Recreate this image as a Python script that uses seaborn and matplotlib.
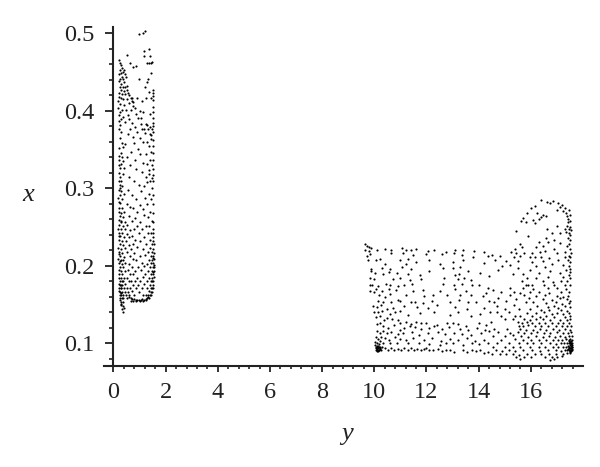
import matplotlib
matplotlib.use('Agg')
import matplotlib.pyplot as plt
import pandas as pd
import seaborn as sns

# points as (y, x)
left_top = [
    (0.98,.499),(1.14,.500),(1.21,.503),(1.17,.477),(1.36,.480),(0.50,.472),(1.17,.470),(1.40,.471),
    (0.23,.465),(0.25,.462),(0.63,.462),(1.27,.462),(1.35,.462),(1.42,.462),(1.49,.463),(0.27,.459),
    (0.32,.455),(0.24,.453),(0.40,.453),(0.73,.456),(0.85,.457),(0.29,.449),(0.37,.450),(0.22,.447),
    (0.44,.447),(0.31,.444),(0.26,.441),(0.36,.441),(0.48,.443),(0.22,.438),(0.41,.437),(0.30,.435),
    (1.45,.448),(1.34,.441),(0.97,.441),(1.27,.437),(0.24,.431),(0.35,.431),(0.44,.430),(0.50,.432),
    (0.28,.427),(0.39,.426),(0.52,.427),(0.57,.423),(1.50,.427),(1.52,.423),(1.20,.430),(0.23,.423),
    (0.33,.422),(0.45,.421),(0.61,.420),(0.66,.416),(1.37,.424),(1.53,.419),(1.50,.414),(0.20,.418),
    (0.29,.416),(0.37,.415),(0.50,.415),(0.71,.413),(0.74,.411),(0.70,.417),(0.92,.417),(1.24,.416),
    (1.43,.417),(0.16,.412),(0.26,.409),(0.42,.408),(0.58,.410),(0.75,.406),(1.08,.413),(1.53,.405),
    (0.18,.403),(0.32,.401),(0.48,.401),(0.66,.401),(0.82,.404),(1.52,.398),(1.40,.396),(0.20,.394),
    (0.24,.398),(0.37,.392),(0.55,.394),(0.86,.396),(1.00,.400),(1.13,.398),(0.22,.387),(0.30,.389),
    (0.61,.389),(0.93,.391),(1.07,.391),(1.52,.390),(0.25,.381),(0.44,.385),(0.71,.384),(1.04,.383),
    (1.23,.383),(1.30,.382),(1.39,.379),(1.50,.384),(1.53,.380),(0.20,.376),(0.62,.376),(0.83,.379),
    (1.11,.376),(1.18,.377),(1.32,.376),(1.48,.376),(1.51,.373),(0.30,.372),(0.56,.370),(0.90,.372),
    (1.22,.371),(1.40,.370),(1.45,.369),(0.24,.365),(0.74,.366),(1.03,.365),(1.42,.363),(1.50,.362),
    (0.31,.358),(0.44,.357),(0.78,.358),(1.15,.360),(1.30,.360),(0.21,.352),(0.36,.353),(0.95,.351),
    (1.37,.354),(1.50,.354),(0.27,.346),(0.68,.347),(1.00,.344),(1.45,.347),(1.53,.345),(0.20,.342),
    (0.31,.341),(0.50,.341),(1.25,.344),(0.22,.336),(0.36,.335),(0.82,.337),(1.41,.336),(1.52,.337),
    (0.29,.331),(0.64,.330),(1.12,.333),(1.30,.331),(1.48,.330),(0.24,.326),(0.41,.326),(0.88,.325),
    (1.35,.324),(1.53,.325),
]
left_low = [
    (0.23,.320),(0.35,.319),(1.10,.321),(1.38,.318),(1.50,.317),(0.26,.315),(0.60,.314),(1.25,.314),
    (1.46,.313),(0.20,.310),(0.30,.309),(0.78,.309),(1.30,.308),(1.41,.309),(1.53,.309),(0.24,.304),
    (0.34,.303),(0.96,.304),(1.18,.303),(0.21,.298),(0.28,.297),(0.55,.298),(1.05,.297),(1.48,.300),
    (0.25,.292),(0.40,.293),(0.70,.291),(1.36,.293),(1.52,.292),(0.19,.287),(0.31,.286),(0.88,.286),
    (1.20,.287),(1.44,.286),(0.26,.281),(0.50,.280),(1.00,.279),(1.30,.280),(1.53,.280),(0.22,.275),
    (0.33,.274),(0.64,.276),(0.76,.274),(1.12,.273),(0.20,.270),(0.28,.268),(0.42,.269),(0.92,.269),
    (1.40,.270),(1.50,.268),(0.25,.264),(0.35,.263),(0.58,.264),(0.83,.262),(1.18,.265),(1.31,.263),
    (0.20,.259),(0.30,.258),(0.46,.257),(0.70,.258),(1.03,.257),(1.46,.258),(1.53,.257),(0.23,.253),
    (0.37,.252),(0.53,.253),(0.90,.252),(1.24,.252),(1.38,.252),(0.19,.248),(0.28,.248),(0.43,.247),
    (0.64,.246),(0.78,.248),(1.10,.247),(1.50,.247),(0.22,.243),(0.33,.242),(0.50,.241),(0.96,.242),
    (1.33,.242),(1.45,.243),(1.53,.242),(0.26,.238),(0.40,.237),(0.58,.237),(0.72,.238),(1.18,.237),
    (1.52,.237),(0.20,.233),(0.31,.232),(0.48,.232),(0.84,.233),(1.03,.232),(1.41,.233),(1.50,.232),
    (0.24,.228),(0.36,.227),(0.60,.227),(0.76,.228),(1.26,.228),(1.47,.228),(1.54,.228),(0.19,.223),
    (0.29,.222),(0.44,.223),(0.68,.222),(0.92,.224),(1.12,.222),(1.40,.223),(1.52,.222),(0.22,.218),
    (0.33,.217),(0.53,.218),(0.80,.217),(1.32,.218),(1.46,.218),(1.54,.217),(0.25,.213),(0.40,.212),
    (0.63,.213),(1.02,.213),(1.20,.214),(1.42,.213),(1.52,.213),(0.19,.209),(0.28,.208),(0.35,.208),
    (0.73,.209),(0.88,.208),(1.36,.208),(1.48,.208),(1.55,.209),(0.22,.204),(0.31,.203),(0.46,.204),
    (0.58,.203),(1.10,.204),(1.28,.203),(1.44,.204),(1.53,.204),(0.25,.199),(0.38,.199),(0.70,.199),
    (0.95,.199),(1.18,.200),(1.40,.199),(1.50,.199),(1.55,.198),(0.20,.195),(0.29,.194),(0.44,.194),
    (0.55,.195),(0.82,.194),(1.05,.195),(1.34,.194),(1.47,.194),(1.54,.193),(0.23,.190),(0.33,.190),
    (0.62,.189),(0.75,.190),(1.22,.190),(1.43,.189),(1.52,.190),(0.21,.185),(0.27,.185),(0.41,.185),
    (0.50,.184),(0.91,.185),(1.12,.186),(1.38,.185),(1.49,.185),(1.55,.186),(0.24,.181),(0.31,.180),
    (0.37,.181),(0.58,.180),(0.68,.181),(0.84,.180),(1.00,.181),(1.30,.181),(1.45,.180),(1.53,.180),
    (0.20,.177),(0.27,.176),(0.34,.176),(0.46,.177),(0.76,.176),(0.93,.176),(1.18,.177),(1.41,.176),
    (1.50,.176),(0.23,.172),(0.30,.172),(0.39,.171),(0.52,.172),(0.62,.171),(0.88,.172),(1.08,.172),
    (1.27,.172),(1.46,.172),(1.52,.171),(0.21,.168),(0.26,.167),(0.33,.167),(0.43,.167),(0.55,.167),
    (0.72,.168),(0.97,.167),(1.36,.168),(1.43,.167),(1.49,.167),(0.24,.163),(0.29,.163),(0.36,.163),
    (0.47,.163),(0.60,.163),(0.80,.163),(1.12,.163),(1.24,.162),(1.33,.163),(1.40,.162),(1.45,.163),
    (0.25,.159),(0.31,.158),(0.38,.159),(0.50,.159),(0.58,.160),(0.66,.158),(0.72,.157),(0.79,.157),
    (0.85,.156),(0.92,.156),(0.99,.156),(1.05,.156),(1.11,.157),(1.17,.156),(1.23,.157),(1.29,.158),
    (1.36,.159),(0.28,.154),(0.35,.153),(0.30,.149),(0.37,.148),(0.33,.144),(0.36,.141),(0.39,.146),
    (0.68,.155),(0.76,.155),(0.88,.155),(1.02,.155),(1.14,.155),(1.26,.156),
]
right_west = [
    (9.63,.228),(9.72,.226),(9.80,.225),(9.87,.223),(9.66,.220),(9.78,.219),(10.10,.220),(10.41,.222),
    (10.62,.221),(11.05,.223),(11.21,.221),(11.42,.220),(11.58,.222),(12.05,.219),(12.28,.221),(12.74,.218),
    (13.10,.220),(13.40,.220),(13.82,.219),(14.20,.218),(9.70,.213),(9.85,.215),(10.62,.216),(11.10,.217),
    (11.50,.214),(12.00,.215),(12.60,.215),(13.05,.216),(13.35,.214),(13.80,.212),(14.35,.213),(9.77,.208),
    (10.05,.207),(10.21,.209),(11.00,.208),(11.30,.209),(12.10,.207),(13.00,.205),(13.40,.208),(10.42,.203),
    (11.20,.203),(11.60,.205),(12.50,.203),(14.20,.204),(9.88,.196),(10.30,.197),(10.60,.196),(11.05,.198),
    (11.40,.196),(12.10,.194),(12.65,.197),(13.00,.197),(13.30,.199),(13.60,.194),(9.86,.193),(10.02,.191),
    (10.35,.190),(10.55,.192),(10.85,.191),(11.30,.190),(11.75,.188),(13.10,.188),(13.25,.190),(14.05,.191),
    (9.83,.184),(9.99,.183),(10.70,.183),(11.00,.184),(11.35,.182),(11.78,.183),(12.68,.184),(13.20,.183),
    (13.45,.184),(13.70,.182),(9.82,.175),(9.92,.176),(10.15,.174),(10.45,.177),(10.60,.176),(10.92,.174),
    (11.15,.176),(11.45,.177),(12.65,.177),(13.05,.175),(13.35,.177),(13.75,.175),(14.00,.176),(9.85,.168),
    (9.98,.167),(10.08,.170),(10.30,.168),(10.55,.170),(10.82,.169),(11.50,.168),(11.85,.169),(12.50,.168),
    (13.10,.170),(13.50,.168),(14.55,.169),(14.30,.165),(10.16,.162),(10.40,.160),(10.60,.164),(11.20,.163),
    (11.90,.161),(12.25,.162),(12.78,.163),(13.30,.162),(13.70,.163),(14.15,.161),(10.15,.155),(10.35,.154),
    (10.65,.153),(10.90,.156),(11.00,.155),(11.40,.154),(11.55,.153),(11.85,.152),(12.20,.155),(12.90,.153),
    (13.25,.156),(13.60,.154),(13.90,.153),(14.40,.155),(9.95,.148),(10.10,.147),(10.25,.149),(10.50,.145),
    (10.72,.146),(11.15,.148),(11.65,.147),(12.05,.146),(12.40,.149),(13.10,.147),(13.55,.144),(14.20,.146),
    (10.00,.141),(10.15,.140),(10.30,.142),(10.60,.138),(10.80,.141),(11.00,.142),(11.30,.137),(11.75,.139),
    (12.30,.140),(12.90,.137),(13.20,.141),(13.70,.136),(14.05,.138),(14.45,.140),(10.08,.134),(10.22,.135),
    (10.38,.130),(10.50,.133),(10.66,.131),(10.90,.130),(11.00,.127),(11.22,.128),(11.40,.125),(11.60,.128),
    (11.80,.126),(12.00,.127),(12.40,.124),(12.80,.126),(13.00,.127),(13.20,.125),(13.50,.122),(14.00,.126),
    (14.30,.124),(14.48,.128),(10.10,.125),(10.20,.127),(10.35,.122),(10.52,.120),(10.75,.124),(11.00,.118),
    (11.15,.120),(11.35,.122),(11.55,.121),(11.78,.119),(12.10,.120),(12.30,.122),(12.60,.119),(12.85,.121),
    (13.30,.119),(13.60,.118),(13.95,.120),(14.25,.117),(10.12,.116),(10.22,.114),(10.35,.116),(10.50,.113),
    (10.65,.115),(10.90,.112),(11.10,.113),(11.45,.115),(11.70,.111),(12.05,.113),(12.45,.115),(12.70,.112),
    (13.05,.114),(13.35,.112),(13.70,.111),(14.10,.113),(14.40,.116),(10.05,.108),(10.15,.106),(10.25,.109),
    (10.40,.107),(10.55,.105),(10.78,.108),(11.00,.106),(11.20,.104),(11.50,.107),(11.90,.105),(12.20,.107),
    (12.55,.103),(12.90,.106),(13.20,.104),(13.55,.107),(13.85,.103),(14.20,.105),(10.02,.102),(10.12,.101),
    (10.22,.103),(10.35,.100),(10.60,.100),(10.85,.101),(11.30,.100),(11.70,.101),(12.10,.099),(12.50,.098),
    (12.75,.100),(13.00,.100),(13.40,.098),(13.75,.100),(14.00,.099),(14.35,.101),(10.04,.098),(10.10,.097),
    (10.18,.099),(10.08,.095),(10.14,.094),(10.20,.096),(10.06,.092),(10.11,.091),(10.16,.092),(10.22,.093),
    (10.30,.096),(10.40,.094),(10.52,.092),(10.64,.094),(10.76,.092),(10.90,.093),(11.02,.092),(11.15,.094),
    (11.28,.092),(11.40,.094),(11.52,.091),(11.65,.093),(11.80,.091),(11.90,.093),(12.00,.094),(12.10,.092),
    (12.25,.091),(12.45,.093),(12.60,.090),(12.75,.091),(12.90,.092),(13.05,.089),(13.40,.091),(13.55,.089),
    (13.75,.091),(13.90,.090),(14.05,.091),(14.20,.088),(14.35,.089),(14.50,.087),
]
right_east = [
    (16.40,.285),(16.62,.283),(16.85,.284),(17.05,.281),(17.20,.278),(16.72,.281),(17.12,.276),(17.30,.275),
    (16.15,.277),(16.00,.274),(17.02,.272),(17.25,.271),(17.35,.268),(15.85,.268),(16.25,.268),(16.48,.266),
    (17.40,.264),(15.70,.262),(16.38,.263),(16.58,.264),(17.42,.260),(15.62,.258),(16.08,.259),(16.30,.260),
    (15.80,.256),(16.15,.255),(17.44,.256),(17.40,.252),(16.62,.248),(17.00,.251),(17.30,.248),(17.45,.248),
    (15.42,.245),(16.80,.243),(17.12,.243),(17.35,.244),(17.46,.243),(15.90,.238),(16.58,.236),(16.90,.234),
    (17.42,.236),(15.60,.228),(16.30,.231),(16.65,.231),(17.10,.229),(17.38,.226),(15.40,.222),(15.65,.224),
    (16.20,.224),(16.45,.226),(16.90,.222),(15.25,.218),(15.45,.217),(15.75,.216),(16.05,.216),(16.35,.218),
    (16.55,.219),(17.00,.216),(17.32,.218),(15.35,.212),(15.60,.213),(15.95,.212),(16.15,.212),(16.40,.212),
    (14.50,.214),(14.80,.213),(16.70,.210),(17.30,.212),(17.45,.213),(14.62,.208),(15.05,.206),(15.50,.206),
    (16.05,.205),(16.45,.206),(17.05,.208),(17.42,.208),(17.50,.205),(14.90,.200),(15.20,.201),(16.20,.200),
    (16.55,.198),(16.82,.203),(17.25,.201),(17.48,.200),(17.52,.196),(14.75,.195),(15.50,.197),(15.95,.195),
    (16.75,.194),(17.35,.195),(17.50,.192),(15.30,.190),(15.70,.190),(16.30,.191),(17.10,.191),(17.45,.188),
    (14.40,.187),(15.85,.184),(16.20,.185),(16.65,.186),(17.25,.186),(17.52,.185),(15.65,.180),(16.48,.181),
    (16.85,.179),(17.15,.181),(17.40,.180),(15.82,.176),(15.90,.176),(16.05,.176),(16.50,.176),(16.90,.176),
    (17.30,.175),(17.50,.176),(14.35,.172),(15.20,.171),(15.70,.172),(16.10,.170),(16.65,.172),(17.00,.171),
    (17.35,.170),(14.85,.167),(15.35,.167),(15.60,.165),(15.95,.167),(16.30,.166),(16.70,.165),(17.15,.166),
    (17.45,.166),(15.20,.162),(15.75,.162),(16.20,.161),(16.55,.162),(17.00,.161),(17.25,.160),(17.42,.161),
    (14.75,.158),(15.45,.157),(15.92,.158),(16.45,.157),(16.80,.156),(17.10,.158),(17.38,.157),(17.50,.155),
    (14.60,.154),(15.05,.155),(15.80,.153),(16.10,.153),(16.60,.152),(16.95,.153),(17.20,.151),(17.45,.152),
    (14.70,.148),(15.35,.149),(16.25,.148),(16.65,.147),(16.88,.148),(17.05,.146),(17.30,.148),(17.50,.147),
    (15.00,.145),(15.55,.144),(15.95,.144),(16.40,.143),(16.70,.143),(17.15,.143),(17.40,.142),(14.70,.140),
    (15.15,.140),(15.85,.139),(16.20,.139),(16.50,.140),(16.80,.138),(17.00,.139),(17.25,.138),(17.48,.139),
    (14.85,.136),(15.40,.136),(15.60,.135),(16.05,.135),(16.35,.134),(16.60,.135),(16.90,.134),(17.30,.134),
    (17.50,.135),(15.00,.131),(15.30,.132),(15.75,.132),(15.95,.130),(16.20,.131),(16.45,.131),(16.72,.130),
    (17.10,.130),(17.40,.130),(17.52,.131),(15.50,.128),(15.65,.127),(15.85,.128),(16.05,.127),(16.30,.127),
    (16.55,.126),(16.80,.127),(17.05,.126),(17.25,.127),(17.45,.127),(15.55,.123),(15.70,.122),(15.90,.124),
    (16.15,.123),(16.40,.122),(16.65,.123),(16.95,.122),(17.20,.123),(17.38,.122),(17.53,.123),(14.60,.119),
    (15.10,.119),(15.60,.119),(15.80,.118),(16.10,.118),(16.35,.119),(16.60,.118),(16.85,.119),(17.08,.118),
    (17.30,.119),(17.50,.118),(14.75,.115),(15.20,.114),(15.50,.115),(15.75,.114),(16.00,.114),(16.25,.115),
    (16.52,.114),(16.75,.113),(17.00,.115),(17.22,.114),(17.42,.113),(17.55,.115),(14.55,.110),(15.00,.110),
    (15.30,.111),(15.62,.110),(15.90,.109),(16.18,.110),(16.45,.109),(16.70,.110),(16.92,.108),(17.12,.110),
    (17.32,.109),(17.46,.110),(17.56,.110),(14.85,.105),(15.40,.106),(15.70,.104),(16.00,.105),(16.32,.105),
    (16.60,.104),(16.85,.105),(17.05,.104),(17.20,.105),(17.35,.106),(17.45,.105),(17.52,.106),(17.57,.104),
    (14.70,.100),(15.15,.101),(15.55,.101),(15.85,.100),(16.10,.100),(16.40,.101),(16.72,.100),(16.95,.099),
    (17.15,.100),(17.28,.101),(17.38,.100),(17.45,.101),(17.50,.102),(17.55,.100),(17.58,.101),(14.55,.096),
    (15.00,.095),(15.30,.096),(15.60,.096),(15.95,.095),(16.30,.096),(16.55,.095),(16.85,.096),(17.05,.095),
    (17.25,.096),(17.35,.095),(17.42,.097),(17.48,.096),(17.53,.097),(17.57,.096),(14.65,.091),(14.90,.090),
    (15.15,.092),(15.40,.090),(15.70,.091),(16.05,.091),(16.35,.090),(16.65,.091),(16.95,.091),(17.15,.090),
    (17.30,.092),(17.40,.091),(17.47,.092),(17.52,.091),(17.56,.092),(17.58,.093),(17.54,.094),(14.80,.087),
    (15.05,.086),(15.30,.087),(15.55,.085),(15.85,.087),(16.15,.086),(16.40,.087),(16.70,.086),(16.98,.087),
    (17.22,.087),(17.40,.088),(17.50,.088),(15.45,.083),(15.75,.083),(16.00,.082),(16.55,.083),(16.80,.082),
    (17.00,.083),(17.20,.084),(16.75,.079),(16.90,.080),(15.60,.080),
]
# the darker patches: both lower corners and the right edge of the hump
dense_spots = [
    (10.09,.096),(10.13,.097),(10.17,.095),(10.07,.094),(10.12,.093),(10.19,.092),(10.24,.091),(10.09,.090),
    (10.15,.090),(10.21,.094),(17.50,.094),(17.53,.092),(17.55,.090),(17.49,.090),(17.52,.089),(17.56,.095),
    (17.50,.098),(17.54,.099),(17.47,.094),(17.44,.093),(17.57,.098),(17.55,.103),(17.52,.100),(17.48,.103),
    (17.47,.272),(17.50,.265),(17.52,.258),(17.50,.250),(17.53,.246),(17.50,.240),(17.52,.233),(17.47,.228),
    (17.50,.222),(17.53,.217),(17.50,.211),(0.21,.330),(0.24,.301),(0.22,.283),(0.27,.256),(0.23,.239),
    (0.21,.215),(0.26,.206),(0.24,.176),(0.27,.171),(0.30,.165),(0.26,.156),(0.29,.151),(1.51,.210),
    (1.54,.201),(1.51,.192),(1.48,.181),(1.42,.171),(1.33,.160),
]
x_ticks = [0, 2, 4, 6, 8, 10, 12, 14, 16]
y_ticks = [0.1, 0.2, 0.3, 0.4, 0.5]

sns.set_style('ticks')
plt.rcParams['font.family'] = 'Liberation Serif'

df = pd.DataFrame(left_top + left_low + right_west + right_east + dense_spots, columns=['y', 'x'])

fig = plt.figure(figsize=(6, 4.67), dpi=100)
# axes box in fractions of the 600x467 canvas
ax = fig.add_axes([104 / 600, 1 - 366 / 467, (583 - 104) / 600, (366 - 27) / 467])
sns.scatterplot(data=df, x='y', y='x', color='black', s=2.4, linewidth=0, ax=ax)

ax.set_xlim(-0.364, 18)
ax.set_ylim(0.0710, 0.5079)
ax.spines['top'].set_visible(False)
ax.spines['right'].set_visible(False)
ax.spines['left'].set_position(('data', 0))
ax.spines['left'].set_linewidth(1.5)
ax.spines['bottom'].set_linewidth(1.5)
ax.spines['left'].set_color('#222222')
ax.spines['bottom'].set_color('#222222')

ax.set_xticks(x_ticks)
ax.set_xticks([t * 0.4 for t in range(0, 45)], minor=True)
ax.set_yticks(y_ticks)
ax.set_yticks([0.08 + t * 0.02 for t in range(0, 22)], minor=True)
ax.set_yticklabels(['0.1', '0.2', '0.3', '0.4', '0.5'])
ax.tick_params(axis='both', which='major', width=1.3, color='#222222', labelsize=17.5, labelcolor='#222222')
ax.tick_params(axis='x', which='major', length=4.5, pad=7)
ax.tick_params(axis='y', which='major', length=6, pad=8)
ax.tick_params(axis='x', which='minor', length=2.2, width=1.2, color='#222222')
ax.tick_params(axis='y', which='minor', length=3, width=1.2, color='#222222')

ax.set_xlabel('')
ax.set_ylabel('')
fig.text(28 / 600, 1 - 195 / 467, 'x', style='italic', fontsize=19, ha='center', va='center', color='#222222')
fig.text(347 / 600, 1 - 434 / 467, 'y', style='italic', fontsize=19, ha='center', va='center', color='#222222')

plt.savefig('out.png', dpi=100)
plt.close()
